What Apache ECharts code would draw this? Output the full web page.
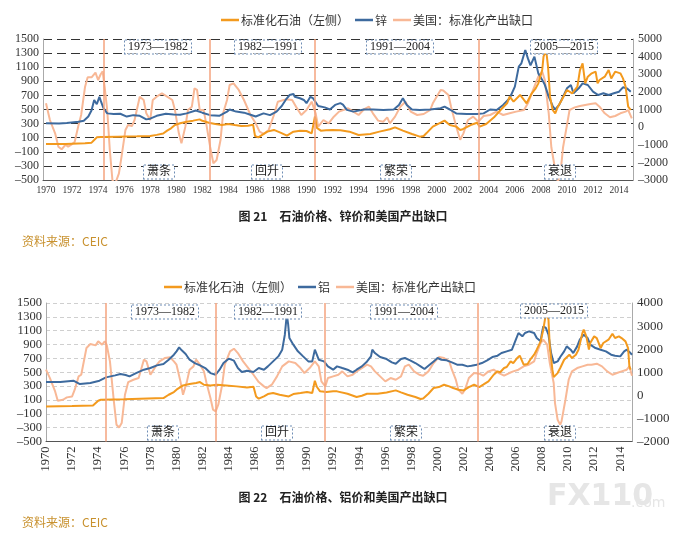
<!DOCTYPE html>
<html>
<head>
<meta charset="utf-8">
<script src="https://cdn.jsdelivr.net/npm/echarts@6/dist/echarts.min.js"></script>
<style>
html, body { margin: 0; padding: 0; background: #fff; }
#chart { width: 687px; height: 541px; }
</style>
</head>
<body>
<div id="chart"></div>
<script>
// 横轴年份标签（两图相同）
var yearLabels = [1970, 1972, 1974, 1976, 1978, 1980, 1982, 1984, 1986, 1988, 1990,
    1992, 1994, 1996, 1998, 2000, 2002, 2004, 2006, 2008, 2010, 2012, 2014];
// 周期分界竖线
var cutYears21 = [1974.4, 1982.6, 1990.65, 2003.2];
var cutYears22 = [1974.6, 1983.0, 1991.35, 2003.1];

// 图21 标准化石油（左轴）
var oil21 = [[1970.0, 10], [1971.5, 12], [1973.0, 20], [1973.5, 30], [1973.7, 67], [1973.9, 105], [1974.2, 110],
    [1975.5, 115], [1977.0, 120], [1978.0, 125], [1978.5, 140], [1979.0, 160], [1979.3, 200], [1979.6, 233],
    [1979.9, 280], [1980.3, 304], [1980.8, 327], [1981.3, 342], [1981.8, 360], [1982.0, 340], [1982.5, 313],
    [1983.0, 295], [1983.5, 280], [1984.0, 295], [1984.5, 280], [1985.0, 266], [1985.5, 270], [1985.9, 285],
    [1986.05, 124], [1986.3, 105], [1986.6, 140], [1987.0, 186], [1987.5, 210], [1988.0, 172], [1988.5, 130],
    [1989.0, 186], [1989.5, 200], [1990.0, 195], [1990.4, 162], [1990.65, 400], [1990.8, 240], [1991.1, 200],
    [1991.5, 205], [1992.0, 210], [1992.6, 205], [1993.3, 186], [1994.0, 139], [1994.9, 153], [1995.6, 186],
    [1996.4, 220], [1996.8, 247], [1997.4, 200], [1998.1, 153], [1998.7, 115], [1999.0, 125], [1999.2, 162],
    [1999.7, 257], [2000.3, 313], [2000.6, 342], [2001.0, 280], [2001.5, 257], [2001.8, 210], [2002.0, 220],
    [2002.6, 280], [2003.1, 313], [2003.3, 257], [2003.8, 295], [2004.4, 389], [2004.9, 493], [2005.4, 588],
    [2005.6, 682], [2005.9, 611], [2006.4, 706], [2006.7, 635], [2006.9, 588], [2007.3, 730], [2007.6, 800],
    [2007.8, 871], [2008.1, 1060], [2008.2, 1250], [2008.4, 1344], [2008.55, 1100], [2008.7, 682], [2008.9, 493],
    [2009.1, 446], [2009.3, 540], [2009.6, 635], [2010.0, 777], [2010.4, 730], [2010.8, 824], [2011.0, 1060],
    [2011.2, 1155], [2011.4, 871], [2011.6, 966], [2011.9, 1013], [2012.2, 1037], [2012.35, 871], [2012.5, 918],
    [2012.9, 966], [2013.2, 1060], [2013.4, 940], [2013.7, 1037], [2014.1, 1013], [2014.3, 942], [2014.5, 824],
    [2014.7, 540], [2014.9, 493]];

// 图21 锌（右轴）
var zinc21 = [[1970.0, 216], [1971.0, 200], [1971.6, 230], [1972.5, 300], [1972.9, 360], [1973.25, 600],
    [1973.5, 960], [1973.7, 1540], [1973.9, 1300], [1974.1, 1720], [1974.2, 1500], [1974.4, 1100], [1974.7, 780],
    [1975.2, 740], [1975.7, 760], [1976.2, 600], [1976.7, 680], [1977.2, 640], [1977.7, 440], [1978.0, 480],
    [1978.5, 640], [1979.2, 760], [1979.8, 720], [1980.3, 700], [1980.8, 780], [1981.5, 940], [1982.0, 820],
    [1982.6, 680], [1983.3, 640], [1983.9, 880], [1984.1, 1000], [1984.6, 880], [1985.2, 820], [1985.7, 700],
    [1986.1, 600], [1986.7, 780], [1987.2, 680], [1987.7, 880], [1988.1, 1200], [1988.4, 1540], [1988.7, 1820],
    [1989.0, 1880], [1989.1, 1720], [1989.5, 1640], [1989.8, 1540], [1990.0, 1360], [1990.3, 1720], [1990.5, 1640],
    [1990.9, 1200], [1991.4, 1120], [1991.8, 1000], [1992.2, 1260], [1992.6, 1360], [1992.8, 1280], [1993.1, 980],
    [1993.6, 880], [1994.4, 1000], [1995.1, 1000], [1995.9, 970], [1996.7, 1000], [1997.1, 1260], [1997.4, 1640],
    [1997.7, 1260], [1998.1, 1000], [1998.7, 970], [1999.5, 1000], [2000.3, 1070], [2000.6, 1160], [2001.0, 1000],
    [2001.5, 780], [2002.3, 740], [2003.1, 740], [2003.6, 780], [2004.1, 1000], [2004.6, 970], [2005.1, 1260],
    [2005.6, 1640], [2006.0, 2300], [2006.3, 3430], [2006.5, 3620], [2006.8, 4380], [2007.0, 3900], [2007.2, 3500],
    [2007.5, 4000], [2007.8, 3050], [2008.1, 2680], [2008.3, 2400], [2008.6, 1730], [2008.9, 1200], [2009.1, 1000],
    [2009.4, 1260], [2009.7, 1730], [2010.0, 2200], [2010.3, 2390], [2010.5, 1920], [2010.9, 2200], [2011.2, 2480],
    [2011.6, 2390], [2012.0, 2010], [2012.4, 1820], [2012.8, 1920], [2013.2, 1820], [2013.6, 1920], [2014.0, 2010],
    [2014.3, 2260], [2014.6, 2200], [2014.9, 2010]];

// 图21 美国：标准化产出缺口（右轴）
var gap21 = [[1970.0, 1352], [1970.3, 404], [1970.7, -352], [1970.95, -1108], [1971.2, -1260], [1971.5, -1000],
    [1971.7, -1108], [1972.0, -960], [1972.2, -840], [1972.5, 120], [1972.7, 688], [1973.0, 2296], [1973.2, 2824],
    [1973.5, 2824], [1973.8, 3092], [1974.0, 2672], [1974.2, 3000], [1974.35, 3160], [1974.5, 2296], [1974.7, 972],
    [1974.9, -1296], [1975.1, -3000], [1975.3, -3240], [1975.6, -2620], [1975.8, -1676], [1976.1, -160],
    [1976.3, 120], [1976.6, 60], [1976.8, 404], [1977.2, 1728], [1977.5, 1540], [1977.7, 784], [1978.0, 404],
    [1978.2, 1540], [1978.5, 1728], [1978.9, 1920], [1979.3, 1728], [1979.7, 1540], [1979.9, 972], [1980.2, -352],
    [1980.4, -920], [1980.7, 28], [1980.9, 972], [1981.2, 1160], [1981.4, 2200], [1981.6, 2120], [1981.8, 972],
    [1982.1, 972], [1982.3, 216], [1982.6, -1108], [1982.85, -2052], [1983.1, -1864], [1983.4, -728], [1983.6, 784],
    [1983.9, 1540], [1984.1, 2392], [1984.4, 2484], [1984.8, 2108], [1985.2, 1540], [1985.7, 688], [1986.1, 216],
    [1986.4, -256], [1986.7, -388], [1987.1, -160], [1987.5, 688], [1987.8, 1444], [1988.4, 1576], [1988.9, 1540],
    [1989.2, 1160], [1989.6, 688], [1990.0, 972], [1990.4, 1444], [1990.7, 784], [1990.9, 28], [1991.3, 404],
    [1991.7, 216], [1992.1, 592], [1992.5, 880], [1993.2, 1068], [1993.6, 880], [1994.0, 688], [1994.4, 1000],
    [1994.8, 1160], [1995.1, 784], [1995.5, 368], [1995.9, 308], [1996.2, 556], [1996.4, 216], [1996.8, 596],
    [1997.2, 1160], [1997.6, 1444], [1998.0, 880], [1998.5, 688], [1999.0, 744], [1999.5, 972], [1999.7, 1352],
    [2000.3, 2108], [2000.5, 2080], [2000.9, 1824], [2001.1, 1160], [2001.5, 28], [2001.8, -720], [2002.05, -352],
    [2002.4, 404], [2002.8, 596], [2003.2, 308], [2003.6, 632], [2004.1, 688], [2004.6, 880], [2005.1, 688],
    [2005.6, 784], [2006.1, 880], [2006.7, 972], [2007.0, 1352], [2007.4, 2108], [2007.8, 2864], [2008.1, 3148],
    [2008.3, 2672], [2008.6, 784], [2008.8, -1140], [2009.1, -2432], [2009.3, -3100], [2009.5, -2620],
    [2009.7, -1140], [2010.0, 120], [2010.2, 972], [2010.6, 1120], [2011.0, 1200], [2011.4, 1256], [2011.8, 1312],
    [2012.2, 1360], [2012.5, 1160], [2012.9, 784], [2013.3, 556], [2013.7, 632], [2014.1, 784], [2014.5, 880],
    [2014.7, 972], [2014.98, 500]];

// 图22 标准化石油（左轴）
var oil22 = [[1970.0, 7], [1972.0, 12], [1973.6, 21], [1974.0, 89], [1974.2, 103], [1976.0, 110], [1977.2, 118],
    [1979.0, 127], [1979.4, 175], [1979.8, 214], [1980.0, 248], [1980.5, 310], [1981.0, 330], [1981.5, 344],
    [1981.8, 358], [1982.1, 320], [1982.6, 310], [1983.1, 320], [1983.8, 310], [1984.6, 296], [1985.4, 281],
    [1985.9, 290], [1986.1, 151], [1986.3, 118], [1986.7, 151], [1987.0, 185], [1987.4, 200], [1987.9, 175],
    [1988.6, 151], [1988.95, 185], [1989.5, 200], [1990.0, 214], [1990.4, 200], [1990.6, 378], [1990.75, 290],
    [1991.0, 224], [1991.5, 214], [1992.0, 224], [1992.3, 224], [1993.1, 190], [1993.8, 142], [1994.2, 161],
    [1994.6, 190], [1995.4, 190], [1996.1, 209], [1996.8, 238], [1997.2, 209], [1997.7, 175], [1998.3, 142],
    [1998.7, 113], [1998.9, 120], [1999.3, 190], [1999.7, 272], [2000.1, 286], [2000.5, 320], [2000.9, 296],
    [2001.2, 272], [2001.6, 248], [2002.0, 238], [2002.4, 286], [2002.8, 320], [2003.2, 286], [2003.5, 320],
    [2003.9, 368], [2004.3, 464], [2004.6, 513], [2004.8, 500], [2005.1, 561], [2005.3, 575], [2005.6, 657],
    [2005.8, 633], [2006.1, 705], [2006.3, 739], [2006.6, 609], [2006.9, 620], [2007.1, 681], [2007.4, 753],
    [2007.6, 826], [2007.9, 946], [2008.1, 1115], [2008.25, 1283], [2008.35, 1380], [2008.5, 1259], [2008.6, 874],
    [2008.8, 537], [2008.9, 430], [2009.2, 488], [2009.4, 561], [2009.7, 681], [2010.1, 753], [2010.3, 705],
    [2010.6, 753], [2010.8, 826], [2011.1, 1066], [2011.2, 1115], [2011.4, 1018], [2011.6, 826], [2011.7, 922],
    [2012.0, 1018], [2012.2, 994], [2012.5, 850], [2012.7, 922], [2013.1, 970], [2013.4, 1057], [2013.6, 994],
    [2013.9, 1018], [2014.1, 994], [2014.4, 946], [2014.6, 850], [2014.7, 585], [2014.8, 537]];

// 图22 铝（右轴）
var alu22 = [[1970.0, 574], [1971.1, 574], [1972.1, 634], [1972.6, 490], [1973.4, 532], [1974.1, 634],
    [1974.6, 778], [1975.3, 865], [1975.7, 922], [1976.1, 880], [1976.4, 820], [1976.9, 964], [1977.5, 1111],
    [1978.0, 1183], [1978.5, 1297], [1979.0, 1354], [1979.4, 1543], [1979.8, 1759], [1980.0, 1906], [1980.2, 2077],
    [1980.4, 1950], [1980.7, 1789], [1981.0, 1543], [1981.4, 1399], [1981.8, 1297], [1982.2, 1183], [1982.6, 964],
    [1983.0, 892], [1983.3, 1111], [1983.6, 1399], [1984.0, 1588], [1984.4, 1501], [1984.7, 1183], [1985.0, 1009],
    [1985.4, 1066], [1985.9, 1009], [1986.3, 1183], [1986.7, 1111], [1987.0, 1255], [1987.4, 1471], [1987.8, 1687],
    [1988.1, 1978], [1988.3, 2626], [1988.45, 3500], [1988.55, 3100], [1988.65, 2482], [1988.95, 2194],
    [1989.3, 1906], [1989.7, 1687], [1990.1, 1471], [1990.4, 1471], [1990.6, 1978], [1990.9, 1543], [1991.3, 1471],
    [1991.6, 1255], [1992.0, 1111], [1992.3, 1255], [1992.7, 1182], [1993.1, 1110], [1993.5, 994], [1993.8, 1110],
    [1994.2, 1255], [1994.6, 1470], [1994.9, 1690], [1995.0, 1977], [1995.2, 1833], [1995.6, 1659], [1996.1, 1572],
    [1996.5, 1428], [1996.8, 1370], [1997.2, 1572], [1997.5, 1616], [1997.9, 1515], [1998.3, 1400], [1998.7, 1255],
    [1999.0, 1139], [1999.3, 1283], [1999.7, 1470], [2000.0, 1616], [2000.3, 1543], [2000.7, 1515], [2001.1, 1428],
    [2001.5, 1327], [2001.9, 1327], [2002.3, 1255], [2002.6, 1283], [2003.0, 1327], [2003.4, 1400], [2003.8, 1515],
    [2004.2, 1659], [2004.6, 1717], [2004.9, 1833], [2005.3, 1905], [2005.7, 1977], [2006.0, 2410], [2006.2, 2700],
    [2006.5, 2555], [2006.7, 2700], [2007.0, 2772], [2007.4, 2700], [2007.6, 2483], [2007.9, 2338], [2008.0, 2700],
    [2008.1, 2988], [2008.3, 2920], [2008.5, 2627], [2008.7, 1833], [2008.9, 1400], [2009.2, 1470], [2009.4, 1659],
    [2009.7, 1905], [2009.9, 2121], [2010.2, 1977], [2010.4, 1833], [2010.7, 2121], [2010.9, 2410], [2011.2, 2627],
    [2011.5, 2483], [2011.7, 2194], [2012.1, 2049], [2012.5, 1977], [2012.9, 1905], [2013.3, 1760], [2013.6, 1717],
    [2014.0, 1688], [2014.3, 1905], [2014.5, 1977], [2014.7, 1880], [2014.9, 1760]];

// 图22 美国：标准化产出缺口（右轴）
var gap22 = [[1970.0, 1111], [1970.3, 748], [1970.7, 169], [1970.9, -233], [1971.3, -191], [1971.6, -89],
    [1972.0, -47], [1972.2, 244], [1972.5, 820], [1972.7, 892], [1973.1, 2050], [1973.4, 2221], [1973.8, 2164],
    [1974.0, 2338], [1974.3, 2194], [1974.5, 2338], [1974.65, 2194], [1974.9, 1471], [1975.2, -263], [1975.4, -1274],
    [1975.6, -1391], [1975.8, -1202], [1976.05, 25], [1976.3, 574], [1976.7, 676], [1977.1, 748], [1977.5, 1543],
    [1977.7, 1471], [1978.0, 892], [1978.4, 1255], [1978.7, 1471], [1979.1, 1615], [1979.5, 1645], [1979.8, 1471],
    [1980.0, 1327], [1980.3, 604], [1980.5, 25], [1980.8, 604], [1981.0, 1111], [1981.3, 1255], [1981.5, 1543],
    [1981.8, 1327], [1982.1, 1039], [1982.3, 532], [1982.6, -119], [1982.8, -623], [1983.0, -695], [1983.2, -407],
    [1983.5, 460], [1983.7, 1327], [1984.1, 1906], [1984.4, 2020], [1984.7, 1831], [1985.1, 1471], [1985.5, 1183],
    [1985.9, 892], [1986.3, 574], [1986.7, 388], [1986.9, 316], [1987.3, 460], [1987.7, 820], [1988.1, 1255],
    [1988.6, 1471], [1989.1, 1399], [1989.5, 1183], [1989.8, 964], [1990.2, 1183], [1990.6, 1471], [1990.9, 1255],
    [1991.1, 604], [1991.4, 388], [1991.6, 748], [1992.0, 820], [1992.4, 892], [1992.7, 1038], [1993.1, 821],
    [1993.5, 893], [1993.8, 1038], [1994.2, 1182], [1994.6, 1327], [1994.9, 1255], [1995.2, 1038], [1995.6, 821],
    [1996.0, 604], [1996.4, 749], [1996.8, 676], [1997.2, 821], [1997.5, 1255], [1997.8, 1327], [1998.2, 1038],
    [1998.6, 893], [1998.9, 850], [1999.3, 1038], [1999.7, 1399], [2000.1, 1659], [2000.5, 1616], [2000.9, 1471],
    [2001.1, 1110], [2001.4, 676], [2001.6, 243], [2001.9, 70], [2002.1, 243], [2002.4, 749], [2002.8, 966],
    [2003.2, 937], [2003.5, 850], [2003.9, 1038], [2004.3, 1110], [2004.7, 966], [2005.1, 850], [2005.5, 966],
    [2005.8, 1038], [2006.2, 1110], [2006.6, 1255], [2007.0, 1327], [2007.4, 1471], [2007.6, 1833], [2007.9, 2266],
    [2008.1, 2410], [2008.4, 2194], [2008.6, 1399], [2008.9, 532], [2009.0, -335], [2009.2, -1058], [2009.4, -1274],
    [2009.5, -1130], [2009.8, -191], [2010.05, 676], [2010.3, 1038], [2010.7, 1182], [2011.1, 1255], [2011.5, 1327],
    [2011.8, 1327], [2012.2, 1370], [2012.6, 1255], [2013.0, 1038], [2013.4, 893], [2013.75, 966], [2014.1, 1038],
    [2014.5, 1110], [2014.7, 1255], [2014.9, 850]];

var OIL = '#F39A1E', ZINC = '#3D6A9E', GAP = '#F8B896', CUT = '#F5A37E';
var SERIF = '"Liberation Serif", "Times New Roman", serif';
var CJK = '"Noto Sans CJK SC", sans-serif';

function minus(v) {
    return String(v).replace('-', '–');
}

// 虚线框标注
function tag(x, y, text) {
    return {
        type: 'text', x: x, y: y, z: 100,
        style: {
            text: text, fill: '#222', align: 'center', verticalAlign: 'middle',
            font: '12px ' + SERIF + ', ' + CJK,
            backgroundColor: '#fff', borderColor: '#6f8db5', borderWidth: 1,
            borderDash: [2, 2], padding: [1, 3, 0, 3]
        }
    };
}

function xAxisOf(gridIndex, min, max, rotate) {
    return {
        type: 'value', gridIndex: gridIndex, min: min, max: max,
        axisLine: { onZero: false, lineStyle: { color: '#555', width: 1 } },
        axisTick: { show: false },
        splitLine: { show: false },
        axisLabel: {
            customValues: yearLabels, rotate: rotate, margin: 5,
            color: '#333', fontFamily: SERIF, fontSize: rotate ? 12.5 : 9.5,
            formatter: function (v) { return String(v); }
        }
    };
}

function yAxisOf(gridIndex, pos, min, max, interval, dark, fs) {
    var ax = {
        type: 'value', gridIndex: gridIndex, position: pos, min: min, max: max, interval: interval,
        axisLine: { show: true, onZero: false, lineStyle: { color: '#aaa' } },
        axisTick: { show: false },
        axisLabel: { color: '#333', fontFamily: SERIF, fontSize: fs, margin: pos === 'left' ? 4 : 5, formatter: minus },
        splitLine: { show: false }
    };
    if (pos === 'left') {
        ax.splitLine = dark
            ? { show: true, lineStyle: { color: '#333', type: [9, 5], width: 1.2 } }
            : { show: true, lineStyle: { color: '#cfcfcf', type: [4, 3], width: 1 } };
    }
    return ax;
}

function lineSeries(name, data, xi, yi, color, z) {
    return {
        name: name, type: 'line', data: data, xAxisIndex: xi, yAxisIndex: yi,
        showSymbol: false, symbol: 'none', smooth: false, z: z,
        lineStyle: { color: color, width: 2 }, itemStyle: { color: color }
    };
}

function cutLines(years) {
    return {
        silent: true, symbol: 'none', label: { show: false },
        lineStyle: { color: CUT, type: 'solid', width: 1.5 },
        data: years.map(function (y) { return { xAxis: y }; })
    };
}

var gapA = lineSeries('美国：标准化产出缺口', gap21, 0, 1, GAP, 2);
gapA.markLine = cutLines(cutYears21);
var gapB = lineSeries('美国：标准化产出缺口', gap22, 1, 3, GAP, 2);
gapB.markLine = cutLines(cutYears22);

var legendBase = {
    icon: 'rect', itemWidth: 18, itemHeight: 2.5, itemGap: 6,
    textStyle: { fontFamily: CJK, fontSize: 12, color: '#333', padding: [0, 0, 0, -3] }
};

var option = {
    animation: false,
    backgroundColor: '#fff',
    legend: [
        Object.assign({ left: 216, top: 9, data: ['标准化石油（左侧）', '锌', '美国：标准化产出缺口'] }, legendBase),
        Object.assign({ left: 159, top: 276, data: ['标准化石油（左侧）', '铝', '美国：标准化产出缺口'] }, legendBase)
    ],
    grid: [
        { left: 43, right: 54, top: 39, height: 141 },
        { left: 46, right: 55, top: 303, height: 138.5 }
    ],
    xAxis: [
        xAxisOf(0, 1969.77, 2015.07, 0),
        xAxisOf(1, 1970, 2014.9, 90)
    ],
    yAxis: [
        yAxisOf(0, 'left', -500, 1500, 200, true, 12),
        yAxisOf(0, 'right', -3000, 5000, 1000, true, 12),
        yAxisOf(1, 'left', -500, 1500, 200, false, 12.5),
        yAxisOf(1, 'right', -2000, 4000, 1000, false, 13)
    ],
    series: [
        lineSeries('标准化石油（左侧）', oil21, 0, 0, OIL, 4),
        lineSeries('锌', zinc21, 0, 1, ZINC, 3),
        gapA,
        lineSeries('标准化石油（左侧）', oil22, 1, 2, OIL, 4),
        lineSeries('铝', alu22, 1, 3, ZINC, 3),
        gapB
    ],
    graphic: [
        tag(158, 47, '1973—1982'), tag(268, 47, '1982—1991'), tag(400, 47, '1991—2004'), tag(564, 47, '2005—2015'),
        tag(159, 172, '萧条'), tag(267, 172, '回升'), tag(396, 172, '繁荣'), tag(560, 172, '衰退'),
        tag(165, 312, '1973—1982'), tag(268, 312, '1982—1991'), tag(404, 312, '1991—2004'), tag(554, 311, '2005—2015'),
        tag(163, 433, '萧条'), tag(277, 433, '回升'), tag(406, 433, '繁荣'), tag(560, 433, '衰退'),
        { type: 'text', x: 343, y: 216, style: { text: '图 21　石油价格、锌价和美国产出缺口', align: 'center', verticalAlign: 'middle', font: 'bold 12px ' + CJK, fill: '#222' } },
        { type: 'text', x: 22, y: 241, style: { text: '资料来源：CEIC', verticalAlign: 'middle', font: '12px ' + CJK, fill: '#C8912E' } },
        { type: 'text', x: 343, y: 497, style: { text: '图 22　石油价格、铝价和美国产出缺口', align: 'center', verticalAlign: 'middle', font: 'bold 12px ' + CJK, fill: '#222' } },
        { type: 'text', x: 22, y: 522, style: { text: '资料来源：CEIC', verticalAlign: 'middle', font: '12px ' + CJK, fill: '#C8912E' } },
        { type: 'text', x: 547, y: 497, style: { text: 'FX110', verticalAlign: 'middle', font: 'bold 30px "DejaVu Sans"', fill: '#e6e6e6' } },
        { type: 'text', x: 631, y: 503, style: { text: '.com', verticalAlign: 'middle', font: '14px "DejaVu Sans"', fill: '#e6e6e6' } }
    ]
};

var myChart = echarts.init(document.getElementById('chart'));
myChart.setOption(option);
</script>
</body>
</html>
